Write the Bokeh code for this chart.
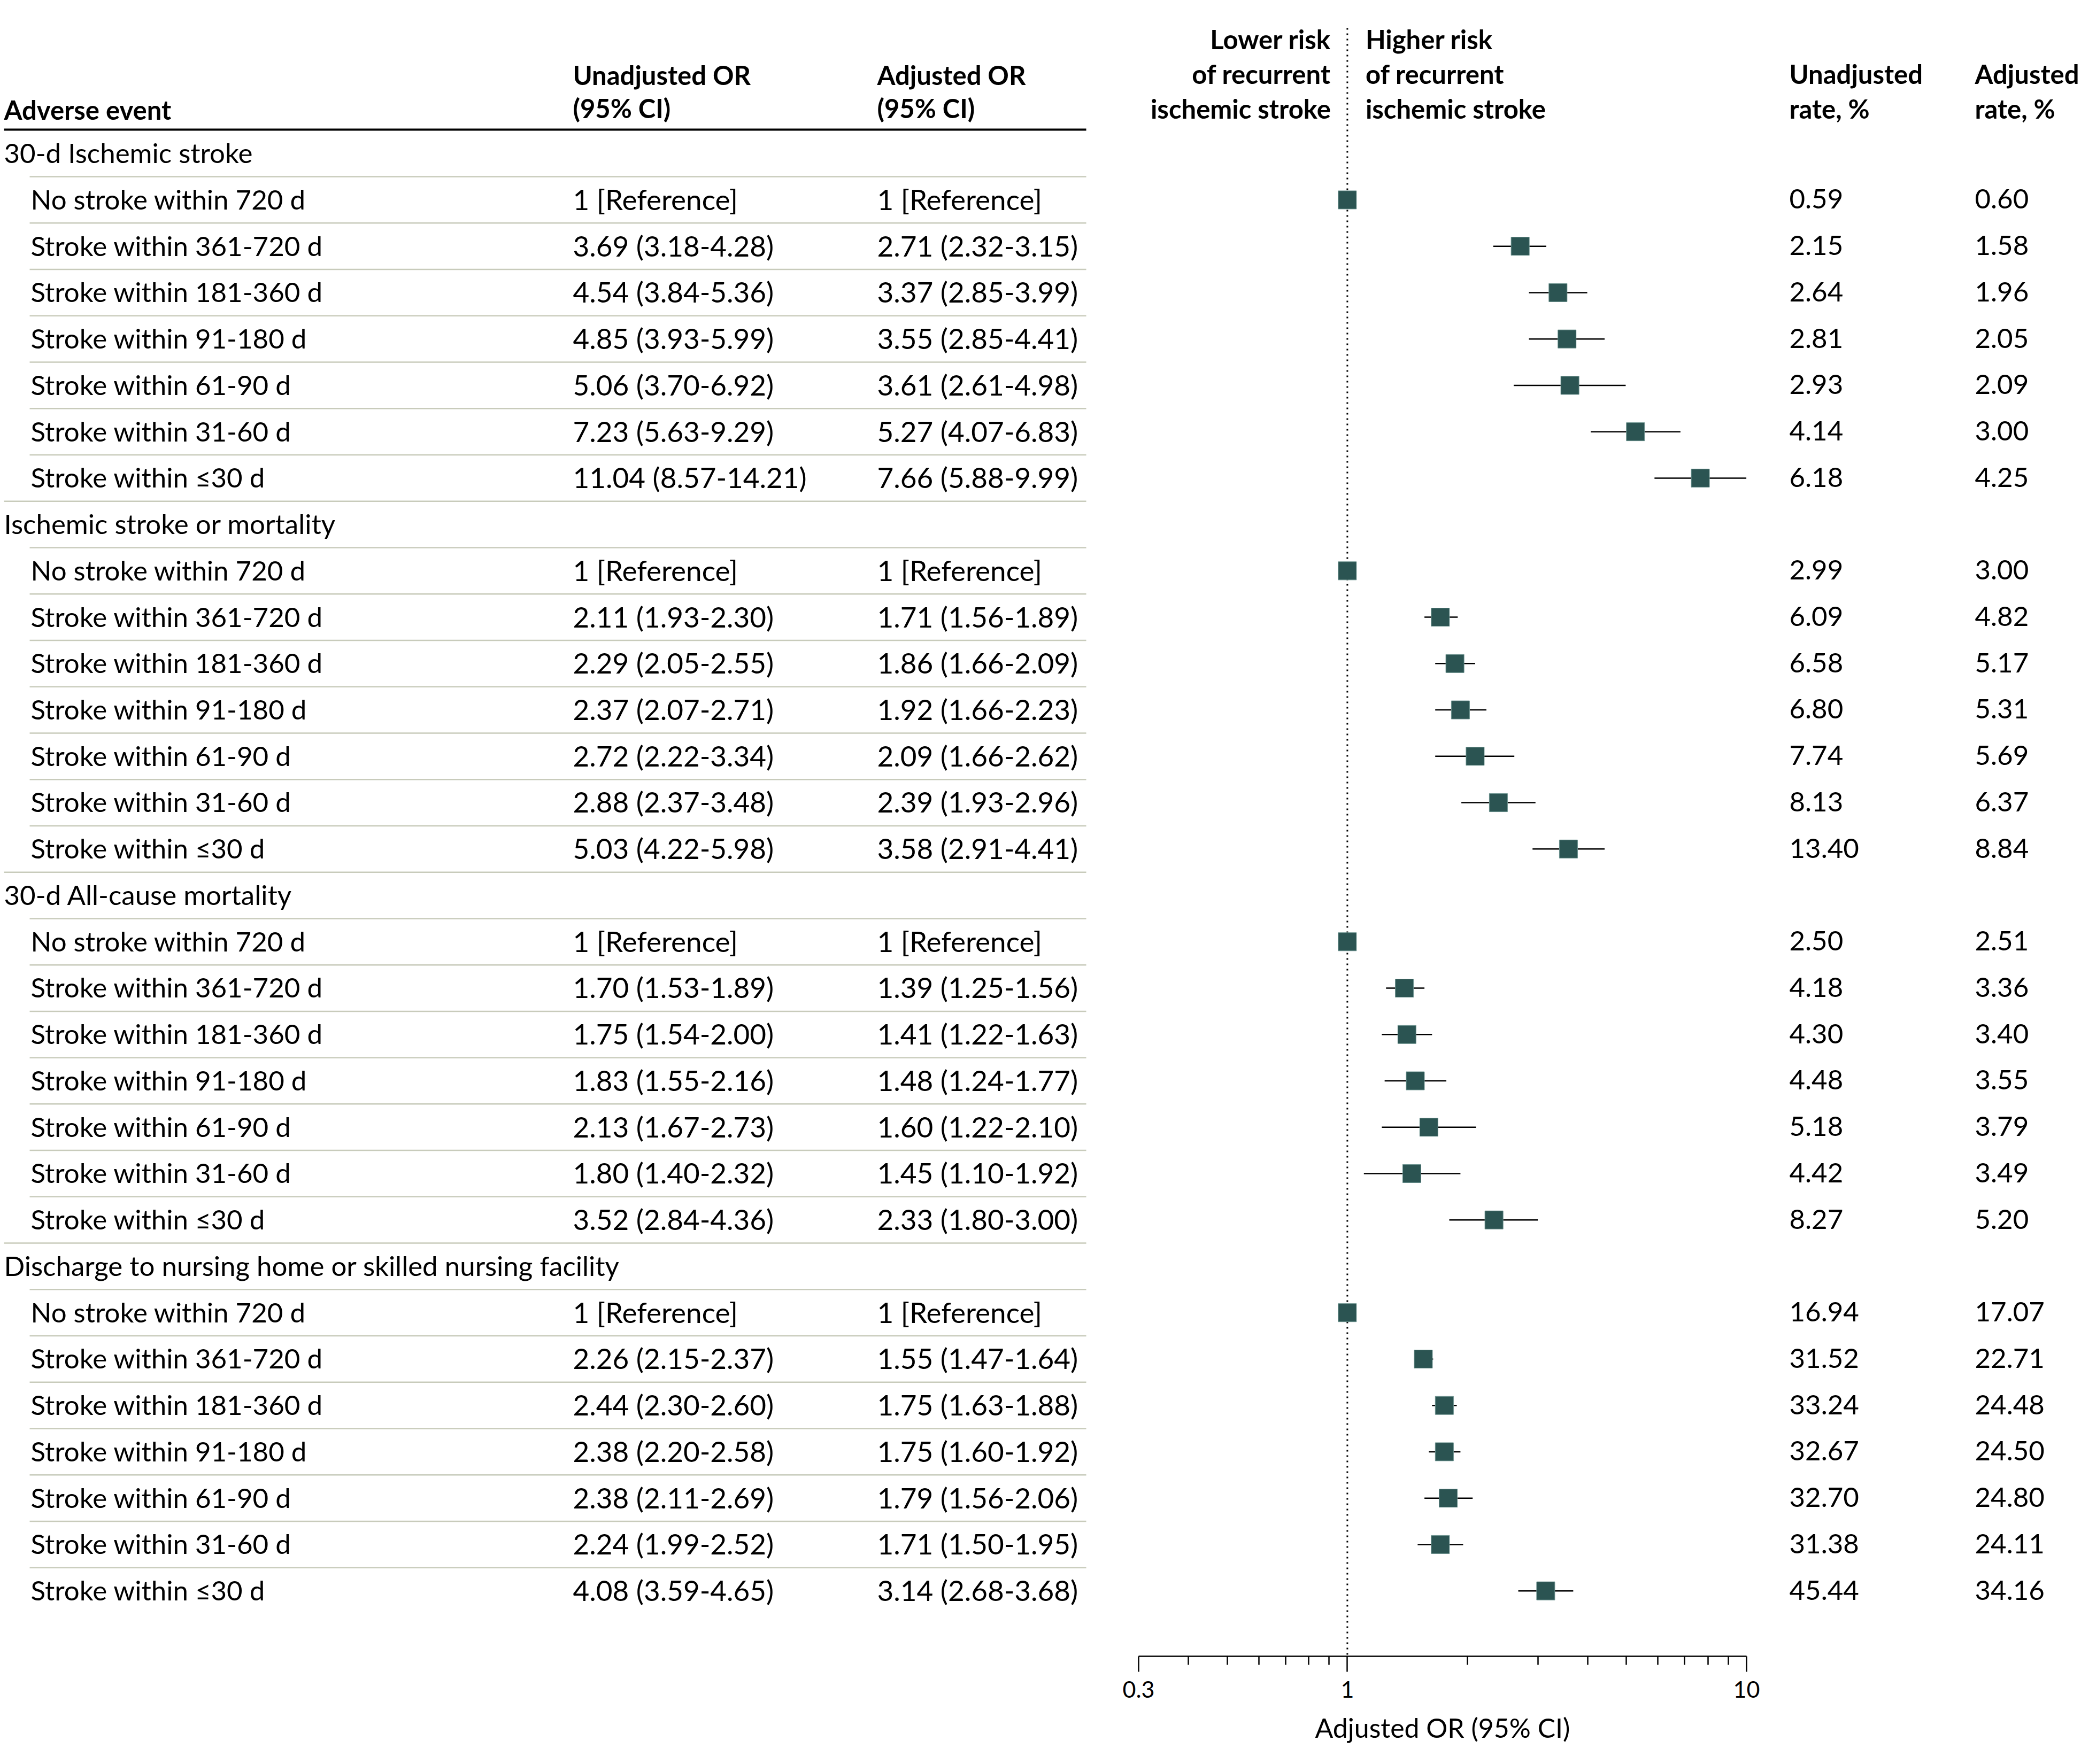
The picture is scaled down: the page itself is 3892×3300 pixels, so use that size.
import math
from bokeh.plotting import figure
from bokeh.layouts import row
from bokeh.models import Range1d, FixedTicker, NumeralTickFormatter
from bokeh.core.properties import value
from bokeh.embed import file_html
from bokeh.resources import INLINE

# ---------------- data ----------------
groups = [
    "30-d Ischemic stroke",
    "Ischemic stroke or mortality",
    "30-d All-cause mortality",
    "Discharge to nursing home or skilled nursing facility",
]
periods = [
    "No stroke within 720 d",
    "Stroke within 361-720 d",
    "Stroke within 181-360 d",
    "Stroke within 91-180 d",
    "Stroke within 61-90 d",
    "Stroke within 31-60 d",
    "Stroke within \u226430 d",
]

unadj_or = [1, 3.69, 4.54, 4.85, 5.06, 7.23, 11.04,
            1, 2.11, 2.29, 2.37, 2.72, 2.88, 5.03,
            1, 1.70, 1.75, 1.83, 2.13, 1.80, 3.52,
            1, 2.26, 2.44, 2.38, 2.38, 2.24, 4.08]
unadj_lo = [None, 3.18, 3.84, 3.93, 3.70, 5.63, 8.57,
            None, 1.93, 2.05, 2.07, 2.22, 2.37, 4.22,
            None, 1.53, 1.54, 1.55, 1.67, 1.40, 2.84,
            None, 2.15, 2.30, 2.20, 2.11, 1.99, 3.59]
unadj_hi = [None, 4.28, 5.36, 5.99, 6.92, 9.29, 14.21,
            None, 2.30, 2.55, 2.71, 3.34, 3.48, 5.98,
            None, 1.89, 2.00, 2.16, 2.73, 2.32, 4.36,
            None, 2.37, 2.60, 2.58, 2.69, 2.52, 4.65]
adj_or = [1, 2.71, 3.37, 3.55, 3.61, 5.27, 7.66,
          1, 1.71, 1.86, 1.92, 2.09, 2.39, 3.58,
          1, 1.39, 1.41, 1.48, 1.60, 1.45, 2.33,
          1, 1.55, 1.75, 1.75, 1.79, 1.71, 3.14]
adj_lo = [None, 2.32, 2.85, 2.85, 2.61, 4.07, 5.88,
          None, 1.56, 1.66, 1.66, 1.66, 1.93, 2.91,
          None, 1.25, 1.22, 1.24, 1.22, 1.10, 1.80,
          None, 1.47, 1.63, 1.60, 1.56, 1.50, 2.68]
adj_hi = [None, 3.15, 3.99, 4.41, 4.98, 6.83, 9.99,
          None, 1.89, 2.09, 2.23, 2.62, 2.96, 4.41,
          None, 1.56, 1.63, 1.77, 2.10, 1.92, 3.00,
          None, 1.64, 1.88, 1.92, 2.06, 1.95, 3.68]
unadj_rate = [0.59, 2.15, 2.64, 2.81, 2.93, 4.14, 6.18,
              2.99, 6.09, 6.58, 6.80, 7.74, 8.13, 13.40,
              2.50, 4.18, 4.30, 4.48, 5.18, 4.42, 8.27,
              16.94, 31.52, 33.24, 32.67, 32.70, 31.38, 45.44]
adj_rate = [0.60, 1.58, 1.96, 2.05, 2.09, 3.00, 4.25,
            3.00, 4.82, 5.17, 5.31, 5.69, 6.37, 8.84,
            2.51, 3.36, 3.40, 3.55, 3.79, 3.49, 5.20,
            17.07, 22.71, 24.48, 24.50, 24.80, 24.11, 34.16]
axis_ticks = [0.3, 1, 10]
axis_minor = [0.4, 0.5, 0.6, 0.7, 0.8, 0.9, 2, 3, 4, 5, 6, 7, 8, 9]

# ---------------- layout constants ----------------
FONT = "Lato"
FS = "51px"
FS_CI = "53px"
FSB = "49px"
ROW0 = 286.7
ROWH = 86.74
TOFF = -18          # rendered-text correction
BASE = 16.4 + TOFF  # text anchor below row centre
H = 3300
FRAME_BOTTOM = 3098
BOT = H - FRAME_BOTTOM
SEP = "#c8cbbb"
SQ_FILL = "#2b5452"
SQ_LINE = "#6f9591"


def yc(i):
    return ROW0 + ROWH * i


def fmt_ci(v, lo, hi):
    if lo is None:
        return "1 [Reference]"
    return f"{v:.2f} ({lo:.2f}-{hi:.2f})"


def hy(vals):
    return [v + TOFF for v in vals]


common = dict(height=H, output_backend="svg", toolbar_location=None,
              min_border_top=0, min_border_bottom=BOT,
              outline_line_color=None, background_fill_color="white",
              border_fill_color="white")

txt = dict(text_font=value(FONT), text_font_size=value(FS),
           text_baseline="alphabetic", text_color="black")
txt_ci = dict(txt, text_font_size=value(FS_CI))
bold = dict(txt, text_font_size=value(FSB), text_font_style="bold")

# ---------------- table (left) ----------------
pa = figure(width=2069, x_range=Range1d(0, 2069), y_range=Range1d(FRAME_BOTTOM, 0),
            x_axis_location=None, y_axis_location=None,
            min_border_left=0, min_border_right=0, **common)
pa.grid.visible = False

pa.text(x=[7, 1071, 1071, 1640, 1640], y=hy([222, 157, 219, 157, 219]),
        text=["Adverse event", "Unadjusted OR", "(95% CI)", "Adjusted OR", "(95% CI)"],
        **bold)
pa.segment(x0=[7], y0=[242], x1=[2031], y1=[242], line_width=4, line_color="black")

gx, gy, gt = [], [], []
ly, lt, ut, at = [], [], [], []
for g, name in enumerate(groups):
    base = g * 8
    gx.append(7); gy.append(yc(base) + BASE); gt.append(name)
    for k, per in enumerate(periods):
        idx = g * 7 + k
        r = base + 1 + k
        ly.append(yc(r) + BASE)
        lt.append(per)
        ut.append(fmt_ci(unadj_or[idx], unadj_lo[idx], unadj_hi[idx]))
        at.append(fmt_ci(adj_or[idx], adj_lo[idx], adj_hi[idx]))

pa.text(x=gx, y=gy, text=gt, **txt)
pa.text(x=[57] * len(lt), y=ly, text=lt, **txt)
pa.text(x=[1071] * len(ut), y=ly, text=ut, **txt_ci)
pa.text(x=[1640] * len(at), y=ly, text=at, **txt_ci)

sx0, sy = [], []
nrows = len(groups) * 8
for i in range(nrows - 1):
    sx0.append(7 if (i + 1) % 8 == 0 else 55)
    sy.append(yc(i) + ROWH / 2)
pa.segment(x0=sx0, y0=sy, x1=[2031] * len(sy), y1=sy, line_width=2.5, line_color=SEP)

# ---------------- forest (middle) ----------------
pb = figure(width=1257, x_axis_type="log", x_range=Range1d(0.3, 10),
            y_range=Range1d(FRAME_BOTTOM, 0), y_axis_location=None,
            min_border_left=60, min_border_right=60, **common)
pb.grid.visible = False

ys, xs, los, his, cy = [], [], [], [], []
for g in range(len(groups)):
    for k in range(len(periods)):
        idx = g * 7 + k
        r = g * 8 + 1 + k
        ys.append(yc(r))
        xs.append(adj_or[idx])
        if adj_lo[idx] is not None:
            los.append(adj_lo[idx]); his.append(adj_hi[idx]); cy.append(yc(r))

pb.segment(x0=[1], y0=[52], x1=[1], y1=[FRAME_BOTTOM], line_dash="3 7", line_width=3,
           line_color="black")
pb.segment(x0=los, y0=cy, x1=his, y1=cy, line_width=2.5, line_color="black")
pb.scatter(x=xs, y=ys, marker="square", size=34, fill_color=SQ_FILL,
           line_color=SQ_LINE, line_width=1)

pb.text(x=[1, 1, 1], y=hy([90, 155, 220]),
        text=["Lower risk", "of recurrent", "ischemic stroke"],
        text_align="right", x_offset=-31, **bold)
pb.text(x=[1, 1, 1], y=hy([90, 155, 220]),
        text=["Higher risk", "of recurrent", "ischemic stroke"],
        text_align="left", x_offset=34, **bold)

ax = pb.xaxis[0]
ax.ticker = FixedTicker(ticks=axis_ticks, minor_ticks=axis_minor)
ax.formatter = NumeralTickFormatter(format="0.[0]")
ax.axis_label = "Adjusted OR (95% CI)"
ax.axis_label_text_font = FONT
ax.axis_label_text_font_size = "50px"
ax.axis_label_text_font_style = "normal"
ax.axis_label_text_color = "black"
ax.axis_label_standoff = 23
ax.major_label_text_font = FONT
ax.major_label_text_font_size = "43px"
ax.major_label_text_color = "black"
ax.major_label_standoff = 17
ax.axis_line_width = 2.5
ax.axis_line_color = "black"
ax.major_tick_line_width = 2.5
ax.minor_tick_line_width = 2.5
ax.major_tick_line_color = "black"
ax.minor_tick_line_color = "black"
ax.major_tick_in = 0
ax.major_tick_out = 29
ax.minor_tick_in = 0
ax.minor_tick_out = 16

# ---------------- rates (right) ----------------
pc = figure(width=566, x_range=Range1d(3326, 3892), y_range=Range1d(FRAME_BOTTOM, 0),
            x_axis_location=None, y_axis_location=None,
            min_border_left=0, min_border_right=0, **common)
pc.grid.visible = False
pc.text(x=[3346, 3346, 3693, 3693], y=hy([155, 220, 155, 220]),
        text=["Unadjusted", "rate, %", "Adjusted", "rate, %"], **bold)
pc.text(x=[3346] * len(ly), y=ly, text=[f"{v:.2f}" for v in unadj_rate], **txt)
pc.text(x=[3693] * len(ly), y=ly, text=[f"{v:.2f}" for v in adj_rate], **txt)

layout = row(pa, pb, pc)
open("out.html", "w").write(file_html(layout, INLINE))
